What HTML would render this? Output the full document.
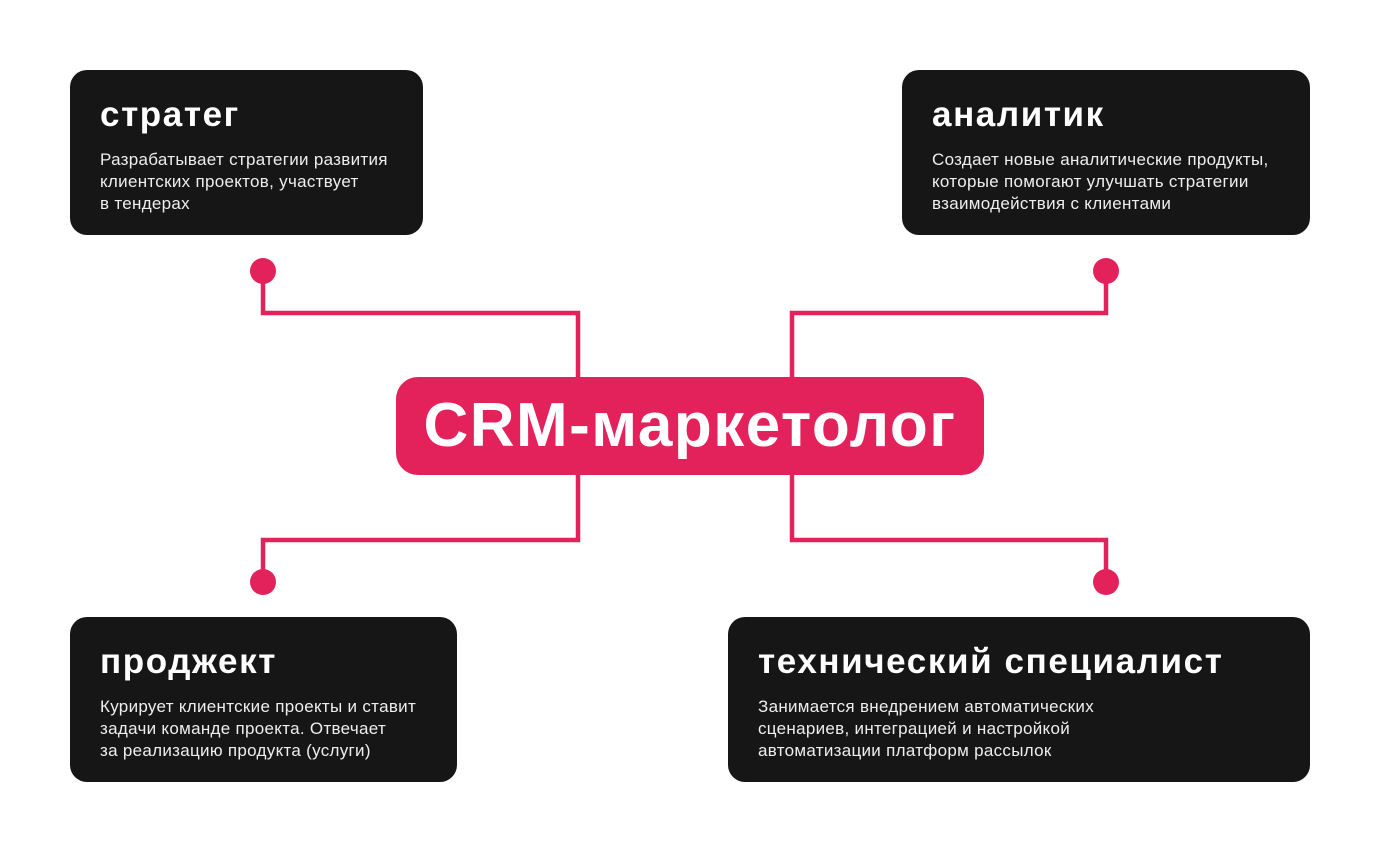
<!DOCTYPE html>
<html><head><meta charset="utf-8"><style>
body{margin:0;width:1380px;height:852px;background:#fff;position:relative;overflow:hidden;font-family:"Liberation Sans",sans-serif}
.b{position:absolute;background:#161616;border-radius:17px;color:#fff;box-sizing:border-box;padding:0 30px}
.b h2{margin:0;position:absolute;left:30px;top:25px;font-size:35px;font-weight:bold;letter-spacing:1.6px;white-space:nowrap}
.b p{margin:0;position:absolute;left:30px;top:79px;font-size:17px;line-height:22px;letter-spacing:0.3px;color:#eee;white-space:nowrap}
.c{position:absolute;left:396px;top:377px;width:588px;height:98px;background:#e3225c;border-radius:22px;color:#fff;font-weight:bold;font-size:62px;text-align:center;line-height:98px;letter-spacing:1.5px}
svg{position:absolute;left:0;top:0}
</style></head><body>
<svg width="1380" height="852">
<g fill="none" stroke="#e3225c" stroke-width="4.5">
<path d="M263 271V313H578V380"/>
<path d="M1106 271V313H792V380"/>
<path d="M578 470V540H263V582"/>
<path d="M792 470V540H1106V582"/>
</g>
<g fill="#e3225c"><circle cx="263" cy="271" r="13"/><circle cx="1106" cy="271" r="13"/><circle cx="263" cy="582" r="13"/><circle cx="1106" cy="582" r="13"/></g>
</svg>
<div class="b" style="left:70px;top:70px;width:353px;height:165px"><h2>стратег</h2><p>Разрабатывает стратегии развития<br>клиентских проектов, участвует<br>в тендерах</p></div>
<div class="b" style="left:902px;top:70px;width:408px;height:165px"><h2>аналитик</h2><p>Создает новые аналитические продукты,<br>которые помогают улучшать стратегии<br>взаимодействия с клиентами</p></div>
<div class="b" style="left:70px;top:617px;width:387px;height:165px"><h2>проджект</h2><p>Курирует клиентские проекты и ставит<br>задачи команде проекта. Отвечает<br>за реализацию продукта (услуги)</p></div>
<div class="b" style="left:728px;top:617px;width:582px;height:165px"><h2>технический специалист</h2><p>Занимается внедрением автоматических<br>сценариев, интеграцией и настройкой<br>автоматизации платформ рассылок</p></div>
<div class="c">CRM-маркетолог</div>
</body></html>
